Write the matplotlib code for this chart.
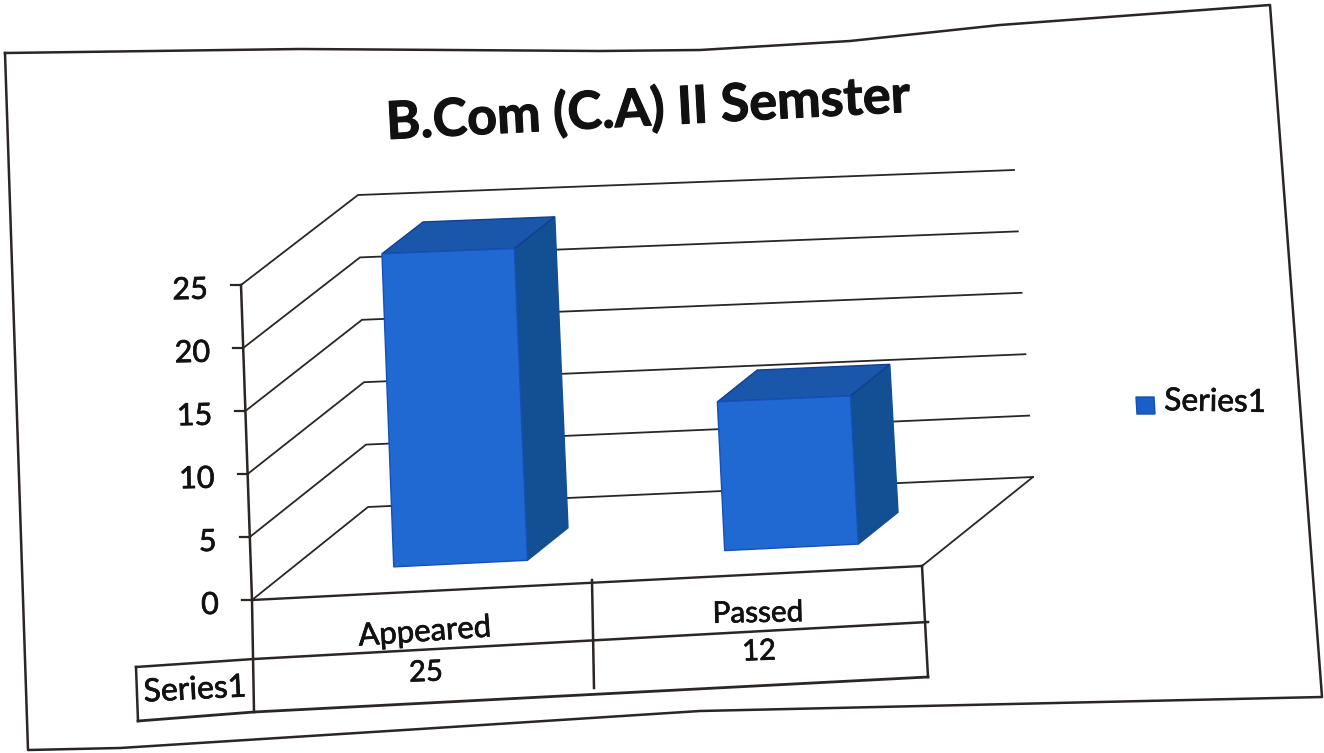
import matplotlib
matplotlib.use('Agg')
import matplotlib.pyplot as plt
import matplotlib.patheffects as pe
from matplotlib.patches import Polygon

plt.rcParams['font.family'] = ['Lato', 'DejaVu Sans']

title = 'B.Com (C.A) II Semster'
categories = ['Appeared', 'Passed']
series_name = 'Series1'
values = [25, 12]
y_ticks = [0, 5, 10, 15, 20, 25]

# the scan is skewed so the chart box corners are in image pixels
# key = (right?, top?, back?)
corners = {
    (0, 0, 0): (252, 600), (0, 1, 0): (241, 285),
    (1, 0, 0): (922, 566), (1, 1, 0): (905, 258),
    (0, 0, 1): (368, 507), (0, 1, 1): (358, 195),
    (1, 0, 1): (1033, 477), (1, 1, 1): (1014, 170),
}
ymax = 25.0


def proj(u, val, d):
    v = val / ymax
    x, y = 0.0, 0.0
    for (a, b, c), (px, py) in corners.items():
        w = (u if a else 1 - u) * (v if b else 1 - v) * (d if c else 1 - d)
        x += w * px
        y += w * py
    return x, y


def label(x, y, s, size, rot=0, ha='center', weight='normal', stroke=0.5):
    t = ax.text(x, y, s, ha=ha, va='center', fontsize=size, fontweight=weight,
                color='#111111', rotation=rot, zorder=5)
    t.set_path_effects([pe.withStroke(linewidth=stroke, foreground='#111111')])


fig = plt.figure(figsize=(13.24, 7.53), dpi=100)
ax = fig.add_axes([0, 0, 1, 1])
ax.set_xlim(0, 1324)
ax.set_ylim(753, 0)
ax.axis('off')
ink = '#2b2523'

# paper outline
edge_x = [5, 300, 600, 700, 850, 1000, 1270, 1322, 700, 420, 120, 28, 5]
edge_y = [53, 49, 51, 50, 41, 25, 5, 697, 711, 729, 748, 750, 53]
ax.plot(edge_x, edge_y, color=ink, lw=1.8, zorder=1)

# walls and gridlines
for t in y_ticks:
    a, b, c = proj(0, t, 0), proj(0, t, 1), proj(1, t, 1)
    ax.plot([a[0], b[0], c[0]], [a[1], b[1], c[1]], color=ink, lw=1.3, zorder=2)
    ax.plot([a[0] - 10, a[0]], [a[1], a[1]], color=ink, lw=1.6, zorder=2)
    label(a[0] - 33, a[1] + 5, str(t), 22, rot=1)
    ax.texts[-1].set_ha('right')
p1, p2 = proj(1, 0, 0), proj(1, 0, 1)
ax.plot([p1[0], p2[0]], [p1[1], p2[1]], color=ink, lw=1.3, zorder=2)
p1, p2 = proj(0, 0, 0), proj(1, 0, 0)
ax.plot([p1[0], p2[0]], [p1[1], p2[1]], color=ink, lw=1.7, zorder=2)

# bars
bar_w = 0.2
bar_u = [0.26, 0.755]
d0, d1 = 0.30, 0.655
for uc, val in zip(bar_u, values):
    u0, u1 = uc - bar_w / 2, uc + bar_w / 2
    front = [proj(u0, 0, d0), proj(u1, 0, d0), proj(u1, val, d0), proj(u0, val, d0)]
    side = [proj(u1, 0, d0), proj(u1, 0, d1), proj(u1, val, d1), proj(u1, val, d0)]
    top = [proj(u0, val, d0), proj(u1, val, d0), proj(u1, val, d1), proj(u0, val, d1)]
    ax.add_patch(Polygon(side, fc='#124f93', ec='#124f93', lw=1, zorder=3))
    ax.add_patch(Polygon(top, fc='#1a57ab', ec='#103e95', lw=1, zorder=3))
    ax.add_patch(Polygon(front, fc='#2069d2', ec='#1450b8', lw=1, zorder=4))

# data table under the chart
ax.plot([252, 254], [600, 712], color=ink, lw=1.8, zorder=2)
ax.plot([241, 252], [285, 600], color=ink, lw=1.8, zorder=2)
ax.plot([136, 254, 928], [667, 659, 622], color=ink, lw=1.8, zorder=2)
ax.plot([138, 254, 928], [721, 712, 677], color=ink, lw=2, zorder=2)
ax.plot([136, 138], [667, 721], color=ink, lw=1.8, zorder=2)
ax.plot([592, 594], [580, 688], color=ink, lw=1.8, zorder=2)
ax.plot([922, 928], [566, 677], color=ink, lw=1.8, zorder=2)

cat_xy = [(425, 632), (758, 613)]
cat_rot = [4, 1]
cat_size = [22.4, 21.4]
val_xy = [(426, 673), (759, 652)]
for c, v, cxy, r, sz, vxy in zip(categories, values, cat_xy, cat_rot, cat_size, val_xy):
    label(cxy[0], cxy[1], c, sz, rot=r)
    label(vxy[0], vxy[1], str(v), 21, rot=2)
label(195, 690, series_name, 23, rot=3)

# legend
ax.add_patch(Polygon([(1136, 397), (1154, 397), (1155, 414), (1137, 414)], fc='#1a5fc8', ec='#1450b8', lw=1, zorder=4))
label(1164, 402, series_name, 22.8, rot=-1, ha='left')

label(648, 110, title, 37.5, rot=3, weight='bold', stroke=0.8)

fig.savefig('out.png', dpi=100, facecolor='white')
